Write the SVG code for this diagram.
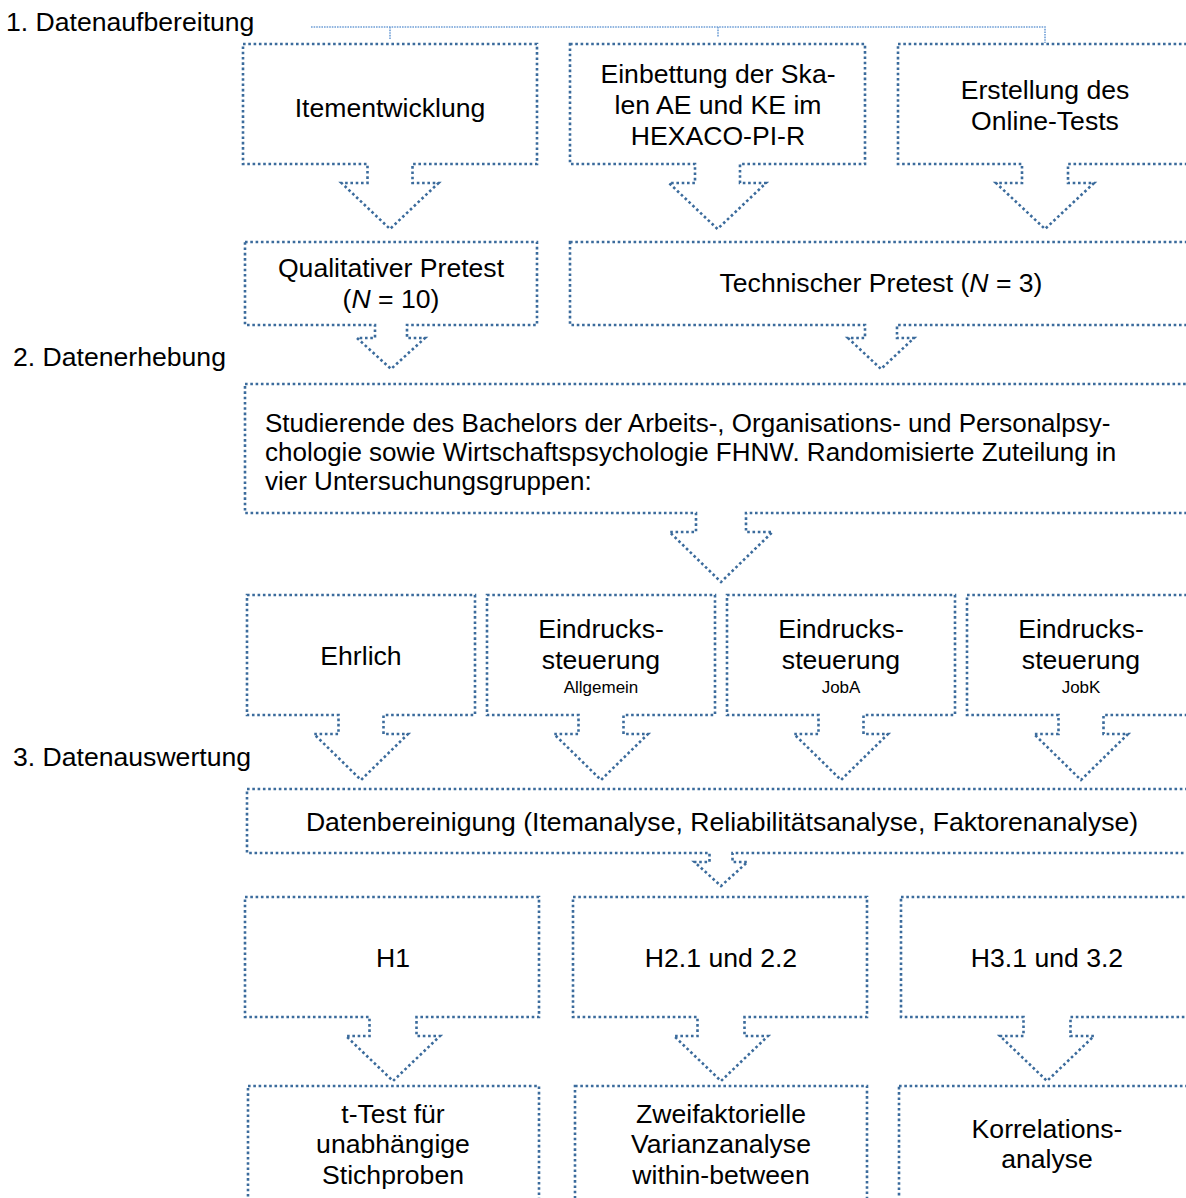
<svg xmlns="http://www.w3.org/2000/svg" width="1186" height="1198" viewBox="0 0 1186 1198">
<style>
.b{fill:#fff;stroke:#3b6b9c;stroke-width:2.6;stroke-dasharray:2.6 2.7;stroke-linejoin:miter}
.t{font-family:"Liberation Sans",Arial,sans-serif;font-size:26.6px;fill:#000;text-anchor:middle}
.l{text-anchor:start}
.p{font-size:26px}
.s{font-size:17px}
.br{fill:none;stroke:#6f9fd6;stroke-width:1.6;stroke-dasharray:1.6 1}
</style>
<rect width="1186" height="1198" fill="#fff"/>
<g id="headings">
<text class="t l" x="6" y="31">1. Datenaufbereitung</text>
<text class="t l" x="13" y="366">2. Datenerhebung</text>
<text class="t l" x="13" y="766">3. Datenauswertung</text>
</g>
<g id="connectors">
<path class="br" d="M311,27 H1045 V43 M390,27 V39 M718,27 V37"/>
</g>
<g id="n-item">
<path class="b" d="M243,44 H537 V164 H412.5 V183 H438.5 L390,229 L341.5,183 H367.5 V164 H243 Z"/>
<text class="t" x="390" y="117">Itementwicklung</text>
</g>
<g id="n-einbettung">
<path class="b" d="M570,44 H865 V164 H740 V183 H766 L717.5,229 L669,183 H695 V164 H570 Z"/>
<text class="t" x="718" y="83">Einbettung der Ska-</text>
<text class="t" x="718" y="114">len AE und KE im</text>
<text class="t" x="718" y="145">HEXACO-PI-R</text>
</g>
<g id="n-online">
<path class="b" d="M898,44 H1200 V164 H1068 V183 H1094 L1045,229 L996,183 H1022 V164 H898 Z"/>
<text class="t" x="1045" y="99">Erstellung des</text>
<text class="t" x="1045" y="130">Online-Tests</text>
</g>
<g id="n-qual">
<path class="b" d="M245,242 H537 V325 H407 V338 H425 L391,369 L357,338 H375 V325 H245 Z"/>
<text class="t" x="391" y="277">Qualitativer Pretest</text>
<text class="t" x="391" y="308">(<tspan font-style="italic">N</tspan> = 10)</text>
</g>
<g id="n-tech">
<path class="b" d="M570,242 H1200 V325 H897 V338 H914 L881,369 L848,338 H865 V325 H570 Z"/>
<text class="t" x="881" y="292">Technischer Pretest (<tspan font-style="italic">N</tspan> = 3)</text>
</g>
<g id="n-studierende">
<path class="b" d="M245,384 H1200 V513 H746 V532 H772.5 L721,582 L669.5,532 H696 V513 H245 Z"/>
<text class="t l p" x="265" y="432">Studierende des Bachelors der Arbeits-, Organisations- und Personalpsy-</text>
<text class="t l p" x="265" y="461">chologie sowie Wirtschaftspsychologie FHNW. Randomisierte Zuteilung in</text>
<text class="t l p" x="265" y="490">vier Untersuchungsgruppen:</text>
</g>
<g id="n-ehrlich">
<path class="b" d="M247,595 H475 V715 H383.5 V734 H408 L361,780 L314,734 H338.5 V715 H247 Z"/>
<text class="t" x="361" y="665">Ehrlich</text>
</g>
<g id="n-allgemein">
<path class="b" d="M487,595 H715 V715 H623.5 V734 H648 L601,780 L554,734 H578.5 V715 H487 Z"/>
<text class="t" x="601" y="638">Eindrucks-</text>
<text class="t" x="601" y="669">steuerung</text>
<text class="t s" x="601" y="693">Allgemein</text>
</g>
<g id="n-joba">
<path class="b" d="M727,595 H955 V715 H863.5 V734 H888 L841,780 L794,734 H818.5 V715 H727 Z"/>
<text class="t" x="841" y="638">Eindrucks-</text>
<text class="t" x="841" y="669">steuerung</text>
<text class="t s" x="841" y="693">JobA</text>
</g>
<g id="n-jobk">
<path class="b" d="M967,595 H1200 V715 H1103.5 V734 H1128 L1081,780 L1034,734 H1058.5 V715 H967 Z"/>
<text class="t" x="1081" y="638">Eindrucks-</text>
<text class="t" x="1081" y="669">steuerung</text>
<text class="t s" x="1081" y="693">JobK</text>
</g>
<g id="n-bereinigung">
<path class="b" d="M247,789 H1200 V853 H732.5 V862 H747.5 L721,886 L694.5,862 H709.5 V853 H247 Z"/>
<text class="t" x="722" y="831">Datenbereinigung (Itemanalyse, Reliabilitätsanalyse, Faktorenanalyse)</text>
</g>
<g id="n-h1">
<path class="b" d="M245,897 H539 V1017 H416.5 V1036 H440 L393,1081 L346,1036 H369.5 V1017 H245 Z"/>
<text class="t" x="393" y="967">H1</text>
</g>
<g id="n-h2">
<path class="b" d="M573,897 H867 V1017 H744.5 V1036 H768 L721,1081 L674,1036 H697.5 V1017 H573 Z"/>
<text class="t" x="721" y="967">H2.1 und 2.2</text>
</g>
<g id="n-h3">
<path class="b" d="M901,897 H1200 V1017 H1070.5 V1036 H1094 L1047,1081 L1000,1036 H1023.5 V1017 H901 Z"/>
<text class="t" x="1047" y="967">H3.1 und 3.2</text>
</g>
<g id="n-ttest">
<rect class="b" x="248" y="1086" width="291" height="130"/>
<text class="t" x="393" y="1123">t-Test für</text>
<text class="t" x="393" y="1153">unabhängige</text>
<text class="t" x="393" y="1184">Stichproben</text>
</g>
<g id="n-anova">
<rect class="b" x="575" y="1086" width="292" height="130"/>
<text class="t" x="721" y="1123">Zweifaktorielle</text>
<text class="t" x="721" y="1153">Varianzanalyse</text>
<text class="t" x="721" y="1184">within-between</text>
</g>
<g id="n-korr">
<rect class="b" x="899" y="1086" width="301" height="130"/>
<text class="t" x="1047" y="1138">Korrelations-</text>
<text class="t" x="1047" y="1168">analyse</text>
</g>
</svg>
